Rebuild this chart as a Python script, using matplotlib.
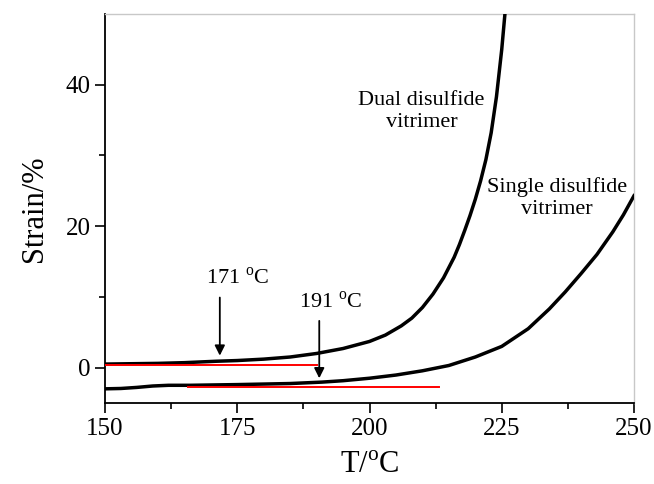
import matplotlib.pyplot as plt
from matplotlib.ticker import FixedLocator

plt.rcParams['font.family'] = ['Liberation Serif', 'DejaVu Serif']

# Dual disulfide vitrimer
dual_T = [150, 155, 160, 165, 171, 175, 180, 185, 190, 195, 200, 203, 206, 208, 210,
          212, 214, 216, 217, 218, 219, 220, 221, 222, 223, 224, 225, 225.6]
dual_strain = [0.5, 0.55, 0.6, 0.7, 0.9, 1.0, 1.2, 1.5, 2.0, 2.7, 3.7, 4.6, 5.9, 7.0, 8.5,
               10.4, 12.7, 15.6, 17.4, 19.4, 21.5, 23.8, 26.4, 29.4, 33.2, 38.3, 45.0, 50.0]

# Single disulfide vitrimer
single_T = [150, 153, 156, 159, 162, 166, 175, 185, 191, 195, 200, 205, 210, 215, 220,
            225, 230, 234, 237, 240, 243, 246, 248, 250]
single_strain = [-3.0, -2.95, -2.8, -2.6, -2.5, -2.5, -2.4, -2.25, -2.05, -1.85, -1.5, -1.05,
                 -0.45, 0.3, 1.5, 3.0, 5.5, 8.3, 10.7, 13.3, 16.0, 19.2, 21.6, 24.3]

# red baselines (x range, y level)
base_dual = ([150, 190], [0.4, 0.4])
base_single = ([165.6, 213.2], [-2.7, -2.7])

fig = plt.figure(figsize=(6.54, 4.84), dpi=100)
ax = fig.add_axes([0.1606, 0.1674, 0.8088, 0.8037])

ax.plot(dual_T, dual_strain, color='black', lw=2.5, solid_joinstyle='round', zorder=3)
ax.plot(single_T, single_strain, color='black', lw=2.5, solid_joinstyle='round', zorder=3)
ax.plot(base_dual[0], base_dual[1], color='red', lw=1.4, zorder=4)
ax.plot(base_single[0], base_single[1], color='red', lw=1.4, zorder=4)

# arrows
arr = dict(arrowstyle='-|>', color='black', lw=1.3, mutation_scale=15)
ax.annotate('', xy=(171.7, 1.3), xytext=(171.7, 10.3), arrowprops=arr)
ax.annotate('', xy=(190.5, -1.9), xytext=(190.5, 7.0), arrowprops=arr)
ax.text(175, 12.6, r'171 $^{\mathregular{o}}$C', fontsize=16, ha='center', va='center')
ax.text(192.7, 9.2, r'191 $^{\mathregular{o}}$C', fontsize=16, ha='center', va='center')

ax.text(209.8, 36.2, 'Dual disulfide\nvitrimer', fontsize=16, ha='center', va='center',
        linespacing=1.25)
ax.text(235.4, 24.0, 'Single disulfide\nvitrimer', fontsize=16, ha='center', va='center',
        linespacing=1.25)

ax.set_xlim(150, 250)
ax.set_ylim(-5, 50)
ax.set_xticks([150, 175, 200, 225, 250])
ax.set_yticks([0, 20, 40])
ax.xaxis.set_minor_locator(FixedLocator([162.5, 187.5, 212.5, 237.5]))
ax.yaxis.set_minor_locator(FixedLocator([10, 30]))
ax.tick_params(which='both', direction='out', top=False, right=False, labelsize=18, width=1.2)
ax.tick_params(which='major', length=7)
ax.tick_params(which='minor', length=4)

for s in ['top', 'right']:
    ax.spines[s].set_color('#c8c8c8')
    ax.spines[s].set_linewidth(1.0)
for s in ['left', 'bottom']:
    ax.spines[s].set_linewidth(1.3)

ax.set_xlabel(r'T/$^{\mathregular{o}}$C', fontsize=22, labelpad=8)
ax.set_ylabel('Strain/%', fontsize=22, labelpad=12)

plt.savefig('out.png')
